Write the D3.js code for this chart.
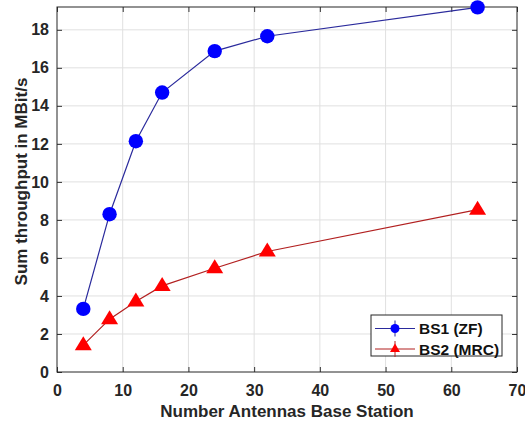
<!DOCTYPE html>
<meta charset="utf-8">
<script src="https://d3js.org/d3.v7.min.js"></script>
<style>
  body { margin: 0; background: #fff; }
  text { font-family: "Liberation Sans", Arial, sans-serif; font-weight: bold; }
</style>
<div id="chart"></div>
<script>
// data
var antennas = [4, 8, 12, 16, 24, 32, 64];
var bs1 = [3.32, 8.3, 12.14, 14.7, 16.88, 17.66, 19.18];
var bs2 = [1.41, 2.78, 3.71, 4.53, 5.46, 6.34, 8.54];
var seriesNames = ["BS1 (ZF)", "BS2 (MRC)"];
var xTicks = [0, 10, 20, 30, 40, 50, 60, 70];
var yTicks = [0, 2, 4, 6, 8, 10, 12, 14, 16, 18];

var W = 525, H = 423;
var margin = {top: 7, right: 8, bottom: 51, left: 57};
var width = W - margin.left - margin.right,
    height = H - margin.top - margin.bottom;

var svg = d3.select("#chart").append("svg")
    .attr("width", W).attr("height", H);
var g = svg.append("g")
    .attr("transform", "translate(" + margin.left + "," + margin.top + ")");

var x = d3.scaleLinear().domain([0, 70]).range([0, width]);
var y = d3.scaleLinear().domain([0, 19.2]).range([height, 0]);

// grid
g.append("g").selectAll("line").data(xTicks.slice(1, -1)).enter().append("line")
    .attr("x1", d => x(d)).attr("x2", d => x(d))
    .attr("y1", 0).attr("y2", height)
    .attr("stroke", "#e0e0e0");
g.append("g").selectAll("line").data(yTicks.slice(1)).enter().append("line")
    .attr("y1", d => y(d)).attr("y2", d => y(d))
    .attr("x1", 0).attr("x2", width)
    .attr("stroke", "#e0e0e0");

// axes, ticks pointing inside
g.append("g").attr("transform", "translate(0," + height + ")")
    .call(d3.axisBottom(x).tickValues(xTicks).tickSizeInner(-5).tickSizeOuter(0).tickPadding(13));
g.append("g")
    .call(d3.axisLeft(y).tickValues(yTicks).tickSizeInner(-5).tickSizeOuter(0).tickPadding(8));
g.append("g").attr("transform", "translate(" + width + ",0)")
    .call(d3.axisRight(y).tickValues(yTicks).tickSizeInner(-5).tickSizeOuter(0).tickFormat(""));
g.append("g")
    .call(d3.axisTop(x).tickValues(xTicks).tickSizeInner(-5).tickSizeOuter(0).tickFormat(""));
g.selectAll(".domain").remove();
g.selectAll(".tick line").attr("stroke", "#333");
g.selectAll(".tick text").attr("font-size", 16).attr("fill", "#262626");

g.append("rect").attr("width", width).attr("height", height)
    .attr("fill", "none").attr("stroke", "#262626").attr("stroke-width", 1);

// labels
svg.append("text").attr("text-anchor", "middle")
    .attr("x", 287).attr("y", 416.5)
    .attr("font-size", 17).attr("fill", "#262626")
    .text("Number Antennas Base Station");
svg.append("text").attr("text-anchor", "middle")
    .attr("transform", "translate(27,181.5) rotate(-90)")
    .attr("font-size", 17).attr("fill", "#262626")
    .text("Sum throughput in MBit/s");

var line = d3.line().x(d => x(d[0])).y(d => y(d[1]));
// flat triangle like the MATLAB '^' marker
var triPath = "M0,-9L8.5,5L-8.5,5Z";

var d1 = antennas.map((a, i) => [a, bs1[i]]);
var d2 = antennas.map((a, i) => [a, bs2[i]]);

g.append("path").datum(d1).attr("d", line)
    .attr("fill", "none").attr("stroke", "#2a2a9c").attr("stroke-width", 1.2);
g.append("path").datum(d2).attr("d", line)
    .attr("fill", "none").attr("stroke", "#b22020").attr("stroke-width", 1.2);

g.selectAll(".m1").data(d1).enter().append("circle")
    .attr("cx", d => x(d[0])).attr("cy", d => y(d[1])).attr("r", 7.2)
    .attr("fill", "#0000ff");
g.selectAll(".m2").data(d2).enter().append("path")
    .attr("d", triPath)
    .attr("transform", d => "translate(" + x(d[0]) + "," + y(d[1]) + ")")
    .attr("fill", "#ff0000");

// legend
var lg = svg.append("g").attr("transform", "translate(371,315)");
lg.append("rect").attr("width", 131).attr("height", 41)
    .attr("fill", "#fff").attr("stroke", "#262626");
var entries = [
  {name: seriesNames[0], line: "#2a2a9c", fill: "#0000ff", kind: "c", yy: 13.5},
  {name: seriesNames[1], line: "#b22020", fill: "#ff0000", kind: "t", yy: 34}
];
entries.forEach(function(e) {
  lg.append("line").attr("x1", 4).attr("x2", 44).attr("y1", e.yy).attr("y2", e.yy)
      .attr("stroke", e.line).attr("stroke-width", 1.2);
  lg.append("line").attr("x1", 24).attr("x2", 24).attr("y1", e.yy - 8).attr("y2", e.yy + 8)
      .attr("stroke", e.line).attr("stroke-width", 1);
  if (e.kind === "c") {
    lg.append("circle").attr("cx", 24).attr("cy", e.yy).attr("r", 4.5).attr("fill", e.fill);
  } else {
    lg.append("path").attr("d", "M0,-5.5L5,3L-5,3Z")
        .attr("transform", "translate(24," + e.yy + ")").attr("fill", e.fill);
  }
  lg.append("text").attr("x", 48).attr("y", e.yy + 5.5)
      .attr("font-size", 15.5).attr("fill", "#111").text(e.name);
});
</script>
